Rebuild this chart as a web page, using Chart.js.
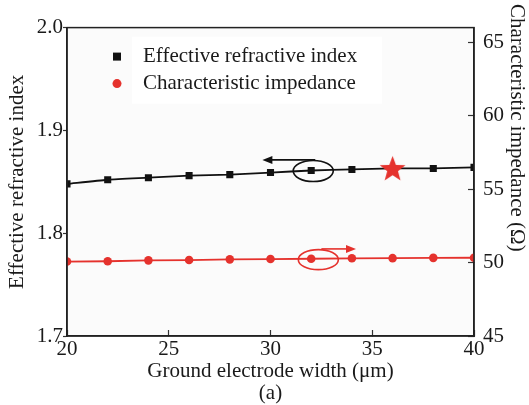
<!DOCTYPE html>
<html>
<head>
<meta charset="utf-8">
<script src="https://cdn.jsdelivr.net/npm/chart.js@4"></script>
<style>
  html, body { margin: 0; padding: 0; background: #ffffff; }
  canvas { display: block; }
</style>
</head>
<body>
<canvas id="chart" width="529" height="405"></canvas>
<script>
// ground electrode width (um)
const widths = [20, 22, 24, 26, 28, 30, 32, 34, 36, 38, 40];
// effective refractive index (left axis)
const nEff = [1.848, 1.852, 1.854, 1.856, 1.857, 1.859, 1.861, 1.862, 1.863, 1.863, 1.864];
// characteristic impedance in ohm (right axis)
const impedance = [50.07, 50.09, 50.15, 50.17, 50.22, 50.24, 50.26, 50.29, 50.30, 50.32, 50.33];
const seriesNames = ['Effective refractive index', 'Characteristic impedance'];
const xTicks = [20, 25, 30, 35, 40];
const nTicks = [1.7, 1.8, 1.9, 2.0];
const zTicks = [45, 50, 55, 60, 65];
const starIndex = 8; // chosen design point, x = 36

const BLACK = '#111111';
const RED = '#e5322d';
const FONT = "'Liberation Serif', 'Times New Roman', serif";

Chart.defaults.font.family = FONT;
Chart.defaults.font.size = 21;
Chart.defaults.color = '#1a1a1a';

// filled five point star used as marker for the design point
function makeStar(size, color) {
    const c = document.createElement('canvas');
    c.width = size;
    c.height = size;
    const g = c.getContext('2d');
    const cx = size / 2, cy = size / 2 + 1;
    const ro = size / 2, ri = ro * 0.42;
    g.beginPath();
    for (let i = 0; i < 10; i++) {
        const r = i % 2 === 0 ? ro : ri;
        const a = -Math.PI / 2 + i * Math.PI / 5;
        g.lineTo(cx + r * Math.cos(a), cy + r * Math.sin(a));
    }
    g.closePath();
    g.fillStyle = color;
    g.fill();
    return c;
}
const star = makeStar(27, RED);

const nStyles = widths.map((w, i) => i === starIndex ? star : 'rect');

const plotBackground = {
    id: 'plotBackground',
    beforeDraw(chart) {
        const {ctx, chartArea: a} = chart;
        ctx.save();
        ctx.fillStyle = '#fbfbfb';
        ctx.fillRect(a.left, a.top, a.right - a.left, a.bottom - a.top);
        ctx.restore();
    }
};

// black frame round the plot, drawn last
const frame = {
    id: 'frame',
    afterDraw(chart) {
        const {ctx, chartArea: a} = chart;
        ctx.save();
        ctx.strokeStyle = '#222';
        ctx.lineWidth = 1.5;
        ctx.strokeRect(a.left, a.top, a.right - a.left, a.bottom - a.top);
        ctx.restore();
    }
};

// legend in the upper left corner of the plot
const innerLegend = {
    id: 'innerLegend',
    afterDatasetsDraw(chart) {
        const ctx = chart.ctx;
        const a = chart.chartArea;
        const mx = a.left + 50, tx = a.left + 76;
        const rows = [a.top + 29, a.top + 56];
        ctx.save();
        ctx.fillStyle = '#ffffff';
        ctx.fillRect(a.left + 65, a.top + 9, 250, 67);
        // square marker
        ctx.fillStyle = BLACK;
        ctx.fillRect(mx - 4, rows[0] - 4, 8, 8);
        // round marker
        ctx.fillStyle = RED;
        ctx.beginPath();
        ctx.arc(mx, rows[1], 4.5, 0, Math.PI * 2);
        ctx.fill();
        ctx.fillStyle = '#1a1a1a';
        ctx.font = '21px ' + FONT;
        ctx.textBaseline = 'middle';
        ctx.textAlign = 'left';
        chart.data.datasets.forEach((ds, i) => ctx.fillText(ds.label, tx, rows[i]));
        ctx.restore();
    }
};

// ellipses and arrows showing which axis each curve belongs to
function arrow(ctx, x1, x2, y, color) {
    const dir = Math.sign(x2 - x1);
    ctx.strokeStyle = color;
    ctx.fillStyle = color;
    ctx.lineWidth = 1.6;
    ctx.beginPath();
    ctx.moveTo(x1, y);
    ctx.lineTo(x2 - dir * 8, y);
    ctx.stroke();
    ctx.beginPath();
    ctx.moveTo(x2, y);
    ctx.lineTo(x2 - dir * 10, y - 4);
    ctx.lineTo(x2 - dir * 10, y + 4);
    ctx.closePath();
    ctx.fill();
}
const axisMarks = {
    id: 'axisMarks',
    afterDatasetsDraw(chart) {
        const {ctx, scales} = chart;
        const x = scales.x, yl = scales.y, yr = scales.y1;
        ctx.save();
        ctx.lineWidth = 1.6;
        // black curve -> left axis
        ctx.strokeStyle = BLACK;
        ctx.beginPath();
        ctx.ellipse(x.getPixelForValue(32.1), yl.getPixelForValue(1.8605), 20, 10.5, 0, 0, Math.PI * 2);
        ctx.stroke();
        arrow(ctx, x.getPixelForValue(32.2), x.getPixelForValue(29.6), yl.getPixelForValue(1.8713), BLACK);
        // red curve -> right axis
        ctx.strokeStyle = RED;
        ctx.beginPath();
        ctx.ellipse(x.getPixelForValue(32.35), yr.getPixelForValue(50.2), 20, 10, 0, 0, Math.PI * 2);
        ctx.stroke();
        arrow(ctx, x.getPixelForValue(32.5), x.getPixelForValue(34.2), yr.getPixelForValue(50.93), RED);
        ctx.restore();
    }
};

// right axis title reads top to bottom
const rightTitle = {
    id: 'rightTitle',
    afterDraw(chart) {
        const ctx = chart.ctx;
        ctx.save();
        ctx.translate(517, 4);
        ctx.rotate(Math.PI / 2);
        ctx.font = '21px ' + FONT;
        ctx.fillStyle = '#1a1a1a';
        ctx.textAlign = 'left';
        ctx.textBaseline = 'middle';
        ctx.fillText('Characteristic impedance (\u03a9)', 0, 0);
        ctx.restore();
    }
};

const config = {
    type: 'line',
    data: {
        datasets: [
            {
                label: seriesNames[0],
                data: widths.map((w, i) => ({x: w, y: nEff[i]})),
                yAxisID: 'y',
                borderColor: BLACK,
                backgroundColor: BLACK,
                borderWidth: 1.8,
                pointStyle: nStyles,
                pointRadius: 5,
                pointBorderWidth: 0,
                tension: 0.2,
                clip: 0
            },
            {
                label: seriesNames[1],
                data: widths.map((w, i) => ({x: w, y: impedance[i]})),
                yAxisID: 'y1',
                borderColor: RED,
                backgroundColor: RED,
                borderWidth: 1.8,
                pointStyle: 'circle',
                pointRadius: 4.3,
                pointBorderWidth: 0,
                tension: 0,
                clip: 0
            }
        ]
    },
    options: {
        responsive: false,
        animation: false,
        layout: { padding: { top: 21, left: 0, right: 0, bottom: 0 } },
        plugins: {
            legend: { display: false },
            tooltip: { enabled: false }
        },
        scales: {
            x: {
                type: 'linear',
                position: 'bottom',
                min: 20,
                max: 40,
                afterBuildTicks: s => { s.ticks = xTicks.map(v => ({value: v})); },
                ticks: { padding: 7, maxRotation: 0 },
                grid: { drawOnChartArea: false, tickLength: -6, tickColor: '#333', tickWidth: 1.2 },
                border: { color: '#222', width: 1.5 },
                title: {
                    display: true,
                    text: ['Ground electrode width (\u03bcm)', '(a)'],
                    font: { size: 21, lineHeight: 1.05 },
                    padding: { top: 0, bottom: 0 }
                },
                afterFit: s => { s.height = 69; }
            },
            y: {
                position: 'left',
                min: 1.7,
                max: 2.0,
                afterBuildTicks: s => { s.ticks = nTicks.map(v => ({value: v})); },
                ticks: { padding: 0, callback: v => v.toFixed(1) },
                grid: { drawOnChartArea: false, tickLength: 4, tickColor: '#333', tickWidth: 1.2 },
                border: { color: '#222', width: 1.5 },
                title: {
                    display: true,
                    text: 'Effective refractive index',
                    font: { size: 21, lineHeight: 1.05 },
                    padding: { top: 6, bottom: 0 }
                },
                afterFit: s => { s.width = 67; }
            },
            y1: {
                position: 'right',
                min: 45,
                max: 66,
                afterBuildTicks: s => { s.ticks = zTicks.map(v => ({value: v})); },
                ticks: { padding: 15 },
                grid: { drawOnChartArea: false, tickLength: -6, tickColor: '#333', tickWidth: 1.2 },
                border: { color: '#222', width: 1.5 },
                afterFit: s => { s.width = 55; }
            }
        }
    },
    plugins: [plotBackground, innerLegend, axisMarks, rightTitle, frame]
};

new Chart(document.getElementById('chart'), config);
</script>
</body>
</html>
